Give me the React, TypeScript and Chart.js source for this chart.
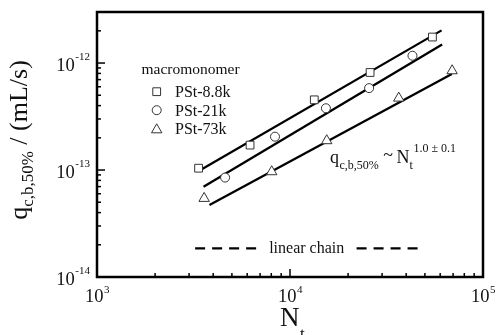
import { useEffect, useRef } from 'react';
import { Chart, registerables } from 'chart.js';

Chart.register(...registerables);

// ---- data ----
const seriesNames = ['PSt-8.8k', 'PSt-21k', 'PSt-73k'];
const pst88N = [3360, 6210, 13360, 26000, 54700];
const pst88Q = [1.04e-13, 1.71e-13, 4.53e-13, 8.16e-13, 1.75e-12];
const pst21N = [4610, 8360, 15350, 25700, 43100];
const pst21Q = [8.5e-14, 2.05e-13, 3.78e-13, 5.83e-13, 1.17e-12];
const pst73N = [3590, 8040, 15500, 36600, 69200];
const pst73Q = [5.43e-14, 9.64e-14, 1.88e-13, 4.7e-13, 8.47e-13];

const fit88N = [3490, 61000];
const fit88Q = [1.015e-13, 2.02e-12];
const fit21N = [3565, 61400];
const fit21Q = [6.97e-14, 1.49e-12];
const fit73N = [3825, 68960];
const fit73Q = [4.7e-14, 7.89e-13];

const linearChainLeftN = [3224, 6730];
const linearChainRightN = [22130, 45900];
const linearChainQ = [1.85e-14, 1.85e-14];

const xTickValues = [1e3, 1e4, 1e5];
const xTickExps = ['3', '4', '5'];
const yTickValues = [1e-14, 1e-13, 1e-12];
const yTickExps = ['-14', '-13', '-12'];
const xMin = 1e3, xMax = 1e5, yMin = 1e-14, yMax = 3e-12;

const FONT = '"Liberation Serif", "Times New Roman", serif';
const f = (px: number) => `${px}px ${FONT}`;
const MARK = '#333';

const zip = (xs: number[], ys: number[]) => xs.map((x, i) => ({ x, y: ys[i] }));

function drawMarker(ctx: CanvasRenderingContext2D, style: string, x: number, y: number, r: number) {
  ctx.beginPath();
  if (style === 'rect') {
    const s = Math.SQRT1_2 * r;
    ctx.rect(x - s, y - s, 2 * s, 2 * s);
  } else if (style === 'circle') {
    ctx.arc(x, y, r, 0, Math.PI * 2);
  } else {
    ctx.moveTo(x, y - r);
    ctx.lineTo(x + r * Math.sin((2 * Math.PI) / 3), y - r * Math.cos((2 * Math.PI) / 3));
    ctx.lineTo(x + r * Math.sin((4 * Math.PI) / 3), y - r * Math.cos((4 * Math.PI) / 3));
    ctx.closePath();
  }
  ctx.fillStyle = '#fff';
  ctx.fill();
  ctx.strokeStyle = MARK;
  ctx.lineWidth = 1;
  ctx.stroke();
}

const markerStyles = ['rect', 'circle', 'triangle'];
const markerRadii = [5.5, 4.5, 6];

const decorPlugin = {
  id: 'decor',
  afterDraw(chart: any) {
    const ctx: CanvasRenderingContext2D = chart.ctx;
    const { left, right, top, bottom } = chart.chartArea;
    const xs = chart.scales.x;
    const ys = chart.scales.y;
    ctx.save();
    ctx.fillStyle = '#111';
    ctx.strokeStyle = '#000';

    // frame
    ctx.lineWidth = 2.5;
    ctx.strokeRect(left, top, right - left, bottom - top);

    // ticks (inward, left and bottom)
    ctx.lineWidth = 1.5;
    for (let d = 3; d <= 5; d++) {
      for (let m = 1; m <= 9; m++) {
        const v = m * Math.pow(10, d);
        if (v < xMin || v > xMax) continue;
        const px = xs.getPixelForValue(v);
        const len = m === 1 ? 8 : 4;
        ctx.beginPath();
        ctx.moveTo(px, bottom);
        ctx.lineTo(px, bottom - len);
        ctx.stroke();
      }
    }
    for (let d = -14; d <= -12; d++) {
      for (let m = 1; m <= 9; m++) {
        const v = m * Math.pow(10, d);
        if (v < yMin * 0.999 || v > yMax * 0.999) continue;
        const py = ys.getPixelForValue(v);
        const len = m === 1 ? 8 : 4;
        ctx.beginPath();
        ctx.moveTo(left, py);
        ctx.lineTo(left + len, py);
        ctx.stroke();
      }
    }

    // x tick labels
    ctx.textBaseline = 'alphabetic';
    ctx.textAlign = 'left';
    xTickValues.forEach((v, i) => {
      const px = xs.getPixelForValue(v);
      ctx.font = f(18.5);
      const w1 = ctx.measureText('10').width;
      ctx.font = f(11);
      const w2 = ctx.measureText(xTickExps[i]).width;
      const sx = px - (w1 + w2) / 2;
      ctx.font = f(18.5);
      ctx.fillText('10', sx, bottom + 25);
      ctx.font = f(11);
      ctx.fillText(xTickExps[i], sx + w1 + 0.5, bottom + 16);
    });

    // y tick labels
    yTickValues.forEach((v, i) => {
      const py = ys.getPixelForValue(v);
      ctx.font = f(11);
      const w2 = ctx.measureText(yTickExps[i]).width;
      ctx.font = f(18.5);
      const w1 = ctx.measureText('10').width;
      const ex = left - 7;
      ctx.font = f(11);
      ctx.fillText(yTickExps[i], ex - w2, py - 3);
      ctx.font = f(18.5);
      ctx.fillText('10', ex - w2 - w1 - 0.5, py + 8.3);
    });

    // x title N_t
    ctx.font = f(27);
    const wN = ctx.measureText('N').width;
    const cx = xs.getPixelForValue(1e4);
    ctx.fillText('N', cx - 10, bottom + 49);
    ctx.font = f(17);
    ctx.fillText('t', cx - 10 + wN + 0.5, bottom + 62);

    // y title q_{c,b,50%} / (mL/s)
    ctx.save();
    ctx.translate(27, 140);
    ctx.rotate(-Math.PI / 2);
    ctx.font = f(26);
    const tq = ctx.measureText('q').width;
    ctx.font = f(17);
    const ts = ctx.measureText('c,b,50%').width;
    ctx.font = f(26);
    const tr = ctx.measureText(' / (mL/s)').width;
    let tx = -(tq + ts + tr) / 2;
    ctx.fillText('q', tx, 0);
    tx += tq;
    ctx.font = f(17);
    ctx.fillText('c,b,50%', tx, 6);
    tx += ts;
    ctx.font = f(26);
    ctx.fillText(' / (mL/s)', tx, 0);
    ctx.restore();

    // legend
    ctx.font = f(15.5);
    ctx.fillText('macromonomer', 141.5, 74);
    const rowY = [91.7, 110.2, 128.8];
    seriesNames.forEach((name, i) => {
      drawMarker(ctx, markerStyles[i], 156.7, rowY[i] + (i === 2 ? 1 : 0), markerRadii[i]);
      ctx.fillStyle = '#111';
      ctx.font = f(16);
      ctx.fillText(name, 175, rowY[i] + 5.5);
    });

    // annotation q_{c,b,50%} ~ N_t^{1.0 ± 0.1}
    let ax = 330;
    const aBase = 163;
    ctx.font = f(18);
    ctx.fillText('q', ax, aBase);
    ax += ctx.measureText('q').width + 0.5;
    ctx.font = f(12);
    ctx.fillText('c,b,50%', ax, aBase + 6);
    ax += ctx.measureText('c,b,50%').width;
    ctx.font = f(18);
    ctx.fillText(' ~ ', ax, aBase - 2);
    ax += ctx.measureText(' ~ ').width - 1;
    ctx.fillText('N', ax, aBase);
    ax += ctx.measureText('N').width;
    ctx.font = f(12);
    ctx.fillText('t', ax, aBase + 6);
    ax += ctx.measureText('t').width + 0.5;
    ctx.fillText('1.0 \u00b1 0.1', ax, aBase - 11.5);

    // linear chain label
    ctx.font = f(16);
    ctx.textAlign = 'center';
    const lx = (xs.getPixelForValue(linearChainLeftN[1]) + xs.getPixelForValue(linearChainRightN[0])) / 2;
    ctx.fillText('linear chain', lx, ys.getPixelForValue(linearChainQ[0]) + 4.5);

    ctx.restore();
  },
};

export default function App() {
  const ref = useRef<HTMLCanvasElement | null>(null);
  useEffect(() => {
    document.body.style.margin = '0';
    document.body.style.overflow = 'hidden';
    const canvas = ref.current!;
    const markerDs = (i: number, xsArr: number[], ysArr: number[]) => ({
      label: seriesNames[i],
      data: zip(xsArr, ysArr),
      showLine: false,
      pointStyle: markerStyles[i],
      pointRadius: markerRadii[i],
      pointBorderColor: MARK,
      pointBackgroundColor: '#fff',
      pointBorderWidth: 1,
      order: 0,
    });
    const lineDs = (xsArr: number[], ysArr: number[], dash: number[] = []) => ({
      label: '',
      data: zip(xsArr, ysArr),
      showLine: true,
      pointRadius: 0,
      borderColor: '#000',
      borderWidth: 2.3,
      borderDash: dash,
      fill: false,
      order: 1,
    });
    const chart = new Chart(canvas, {
      type: 'scatter',
      data: {
        datasets: [
          markerDs(0, pst88N, pst88Q),
          markerDs(1, pst21N, pst21Q),
          markerDs(2, pst73N, pst73Q),
          lineDs(fit88N, fit88Q),
          lineDs(fit21N, fit21Q),
          lineDs(fit73N, fit73Q),
          lineDs(linearChainLeftN, linearChainQ, [10, 7]),
          lineDs(linearChainRightN, linearChainQ, [10, 7]),
        ] as any,
      },
      options: {
        animation: false,
        responsive: false,
        devicePixelRatio: 1,
        layout: { padding: { left: 97, top: 12, right: 13, bottom: 58 } },
        plugins: { legend: { display: false }, tooltip: { enabled: false } },
        scales: {
          x: { type: 'logarithmic', min: xMin, max: xMax, display: false },
          y: { type: 'logarithmic', min: yMin, max: yMax, display: false },
        },
      },
      plugins: [decorPlugin],
    });
    return () => chart.destroy();
  }, []);
  return (
    <div style={{ width: 496, height: 335, background: '#fff' }}>
      <canvas ref={ref} width={496} height={335} style={{ display: 'block' }} />
    </div>
  );
}
